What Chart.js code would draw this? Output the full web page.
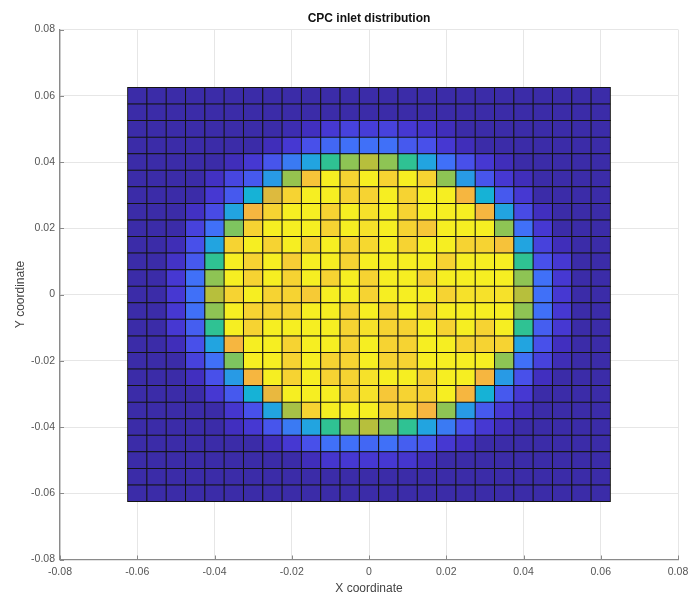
<!DOCTYPE html>
<html>
<head>
<meta charset="utf-8">
<title>CPC inlet distribution</title>
<script src="https://cdn.jsdelivr.net/npm/chart.js@4/dist/chart.umd.min.js"></script>
<style>
  html, body { margin: 0; padding: 0; background: #fff; }
  canvas { display: block; }
</style>
</head>
<body>
<canvas id="chart" width="691" height="599"></canvas>
<script>
// cell centres of the 25 x 25 grid (step 0.005)
const xCenters = [-0.06, -0.055, -0.05, -0.045, -0.04, -0.035, -0.03, -0.025, -0.02, -0.015, -0.01, -0.005, 0,
                  0.005, 0.01, 0.015, 0.02, 0.025, 0.03, 0.035, 0.04, 0.045, 0.05, 0.055, 0.06];
const yCenters = [0.06, 0.055, 0.05, 0.045, 0.04, 0.035, 0.03, 0.025, 0.02, 0.015, 0.01, 0.005, 0,
                  -0.005, -0.01, -0.015, -0.02, -0.025, -0.03, -0.035, -0.04, -0.045, -0.05, -0.055, -0.06];
const cellSize = 0.005;
const tickValues = [-0.08, -0.06, -0.04, -0.02, 0, 0.02, 0.04, 0.06, 0.08];

// normalised intensity per cell, top row first
const cellValues = [
  [0,0,0,0,0,0,0,0,0,0,0,0,0,0,0,0,0,0,0,0,0,0,0,0,0],
  [0,0,0,0,0,0,0,0,0,0,0,0,0,0,0,0,0,0,0,0,0,0,0,0,0],
  [0,0,0,0,0,0,0,0,0.02,0.05,0.1,0.12,0.11,0.12,0.1,0.07,0.04,0,0,0,0,0,0,0,0],
  [0,0,0,0,0,0,0,0.04,0.1,0.15,0.2,0.22,0.22,0.22,0.17,0.15,0.1,0.04,0,0,0,0,0,0,0],
  [0,0,0,0,0,0.04,0.1,0.16,0.24,0.32,0.48,0.6,0.7,0.6,0.48,0.32,0.22,0.15,0.1,0.04,0,0,0,0,0],
  [0,0,0,0,0.06,0.13,0.17,0.3,0.62,0.85,1,0.9,1,0.9,1,0.9,0.6,0.3,0.16,0.1,0.04,0,0,0,0],
  [0,0,0,0,0.1,0.17,0.38,0.76,0.9,1,1,0.9,0.9,1,0.9,1,1,0.8,0.38,0.17,0.1,0,0,0,0],
  [0,0,0,0.06,0.14,0.32,0.8,0.9,1,1,0.9,1,0.95,1,0.9,1,1,1,0.8,0.32,0.14,0.05,0,0,0],
  [0,0,0,0.12,0.22,0.58,0.9,1,1,1,0.9,1,0.95,1,0.9,0.86,1,1,1,0.6,0.22,0.1,0,0,0],
  [0,0,0.03,0.15,0.32,0.9,1,0.9,1,0.9,1,0.9,0.92,1,0.9,1,1,0.9,0.9,0.84,0.32,0.12,0.04,0,0],
  [0,0,0.07,0.17,0.48,1,0.9,1,0.88,1,1,0.9,1,1,1,1,0.9,1,1,1,0.48,0.15,0.1,0,0],
  [0,0,0.1,0.22,0.6,1,0.9,1,0.9,1,0.9,1,0.9,1,1,0.9,1,1,1,1,0.6,0.22,0.1,0,0],
  [0,0,0.1,0.22,0.7,0.9,1,0.9,0.9,0.87,1,1,0.9,1,1,1,0.9,0.95,0.95,0.95,0.7,0.22,0.1,0,0],
  [0,0,0.1,0.22,0.6,1,0.9,0.9,0.9,1,1,0.9,1,0.9,1,0.9,1,1,1,1,0.6,0.22,0.1,0,0],
  [0,0,0.1,0.18,0.48,1,0.9,1,1,1,1,0.9,0.95,0.9,0.9,1,0.9,1,0.9,1,0.48,0.18,0.1,0,0],
  [0,0,0.04,0.15,0.32,0.8,1,1,0.9,1,1,0.9,1,0.9,0.9,1,1,0.9,0.9,0.9,0.32,0.15,0.05,0,0],
  [0,0,0,0.12,0.22,0.58,1,1,0.9,1,0.9,0.9,1,0.9,0.9,1,1,1,1,0.6,0.22,0.12,0.03,0,0],
  [0,0,0,0.05,0.15,0.3,0.8,1,0.9,1,0.9,0.9,0.95,1,1,0.9,1,1,0.8,0.3,0.15,0.05,0,0,0],
  [0,0,0,0,0.1,0.17,0.38,0.78,1,1,1,0.9,0.95,0.86,0.9,0.9,1,0.8,0.38,0.17,0.1,0,0,0,0],
  [0,0,0,0,0,0.09,0.15,0.32,0.66,0.9,1,1,1,0.9,0.9,0.8,0.6,0.3,0.17,0.1,0.04,0,0,0,0],
  [0,0,0,0,0,0.05,0.1,0.16,0.24,0.32,0.48,0.6,0.7,0.58,0.48,0.32,0.24,0.15,0.1,0.04,0,0,0,0,0],
  [0,0,0,0,0,0,0,0.04,0.1,0.15,0.22,0.22,0.2,0.22,0.18,0.16,0.1,0.05,0,0,0,0,0,0,0],
  [0,0,0,0,0,0,0,0,0,0.04,0.09,0.1,0.1,0.1,0.09,0.04,0,0,0,0,0,0,0,0,0],
  [0,0,0,0,0,0,0,0,0,0,0,0,0,0,0,0,0,0,0,0,0,0,0,0,0],
  [0,0,0,0,0,0,0,0,0,0,0,0,0,0,0,0,0,0,0,0,0,0,0,0,0]
];

// parula-like colormap
const colorStops = [
  [0.00, '#3b2ca8'], [0.05, '#412fbf'], [0.10, '#4638d2'], [0.15, '#4850ea'],
  [0.22, '#4070f8'], [0.32, '#22a4e0'], [0.38, '#16b2d6'], [0.48, '#2fc293'],
  [0.60, '#8ec454'], [0.70, '#b7bf3c'], [0.80, '#f6b640'], [0.90, '#f6d332'],
  [1.00, '#f6ee22']
];

function hexToRgb(h) {
  return [parseInt(h.slice(1, 3), 16), parseInt(h.slice(3, 5), 16), parseInt(h.slice(5, 7), 16)];
}

function valueToColor(v) {
  for (let i = 1; i < colorStops.length; i++) {
    const [v1, c1] = colorStops[i];
    if (v <= v1) {
      const [v0, c0] = colorStops[i - 1];
      const t = (v - v0) / (v1 - v0);
      const a = hexToRgb(c0), b = hexToRgb(c1);
      const rgb = a.map((ch, k) => Math.round(ch + (b[k] - ch) * t));
      return `rgb(${rgb[0]},${rgb[1]},${rgb[2]})`;
    }
  }
  return colorStops[colorStops.length - 1][1];
}

// one floating bar per cell
const cells = [];
const cellColors = [];
yCenters.forEach((yc, r) => {
  xCenters.forEach((xc, c) => {
    cells.push({ x: xc, y: [yc - cellSize / 2, yc + cellSize / 2] });
    cellColors.push(valueToColor(cellValues[r][c]));
  });
});

const fmtTick = v => Math.abs(v) < 1e-9 ? '0' : Number(v).toFixed(2);
const tickFont = { family: 'Liberation Sans', size: 10.5 };
const labelFont = { family: 'Liberation Sans', size: 12 };

// MATLAB style: small tick marks pointing into the axes
const innerTicks = {
  id: 'innerTicks',
  afterDraw(chart) {
    const { ctx, chartArea: { left, bottom }, scales: { x, y } } = chart;
    ctx.save();
    ctx.strokeStyle = '#8a8a8a';
    ctx.lineWidth = 1;
    ctx.beginPath();
    tickValues.forEach(v => {
      const px = Math.round(x.getPixelForValue(v)) + 0.5;
      ctx.moveTo(px, bottom);
      ctx.lineTo(px, bottom - 4);
      const py = Math.round(y.getPixelForValue(v)) + 0.5;
      ctx.moveTo(left, py);
      ctx.lineTo(left + 4, py);
    });
    ctx.stroke();
    ctx.restore();
  }
};

new Chart(document.getElementById('chart'), {
  type: 'bar',
  data: {
    datasets: [{
      data: cells,
      backgroundColor: cellColors,
      borderColor: '#141414',
      borderWidth: 1,
      borderSkipped: false,
      barPercentage: 1,
      categoryPercentage: 1,
      inflateAmount: 0.5
    }]
  },
  options: {
    responsive: false,
    animation: false,
    layout: { padding: { top: 0, right: 13, bottom: 0, left: 0 } },
    plugins: {
      legend: { display: false },
      tooltip: { enabled: false },
      title: {
        display: true,
        text: 'CPC inlet distribution',
        fullSize: false,
        color: '#111',
        font: { family: 'Liberation Sans', size: 12, weight: 'bold' },
        padding: { top: 11, bottom: 4.1 }
      }
    },
    scales: {
      x: {
        type: 'linear',
        min: -0.08,
        max: 0.08,
        offset: false,
        afterBuildTicks: s => { s.ticks = tickValues.map(v => ({ value: v })); },
        afterFit: s => { s.height = 39.5; s.paddingLeft = 0; s.paddingRight = 0; },
        grid: { color: '#e6e6e6', drawTicks: false, offset: false },
        border: { color: '#8a8a8a', width: 1.3 },
        ticks: { padding: 6, color: '#555', font: tickFont, maxRotation: 0, callback: fmtTick },
        title: { display: true, text: 'X coordinate', color: '#444', font: labelFont, padding: { top: 0, bottom: 3 } }
      },
      y: {
        type: 'linear',
        min: -0.08,
        max: 0.08,
        afterBuildTicks: s => { s.ticks = tickValues.map(v => ({ value: v })); },
        afterFit: s => { s.width = 60; s.paddingTop = 0; s.paddingBottom = 0; },
        grid: { color: '#e6e6e6', drawTicks: false },
        border: { color: '#8a8a8a', width: 1.3 },
        ticks: { padding: 5, color: '#555', font: tickFont, callback: fmtTick },
        title: { display: true, text: 'Y coordinate', color: '#444', font: labelFont, padding: { top: 13, bottom: 0 } }
      }
    }
  },
  plugins: [innerTicks]
});
</script>
</body>
</html>
